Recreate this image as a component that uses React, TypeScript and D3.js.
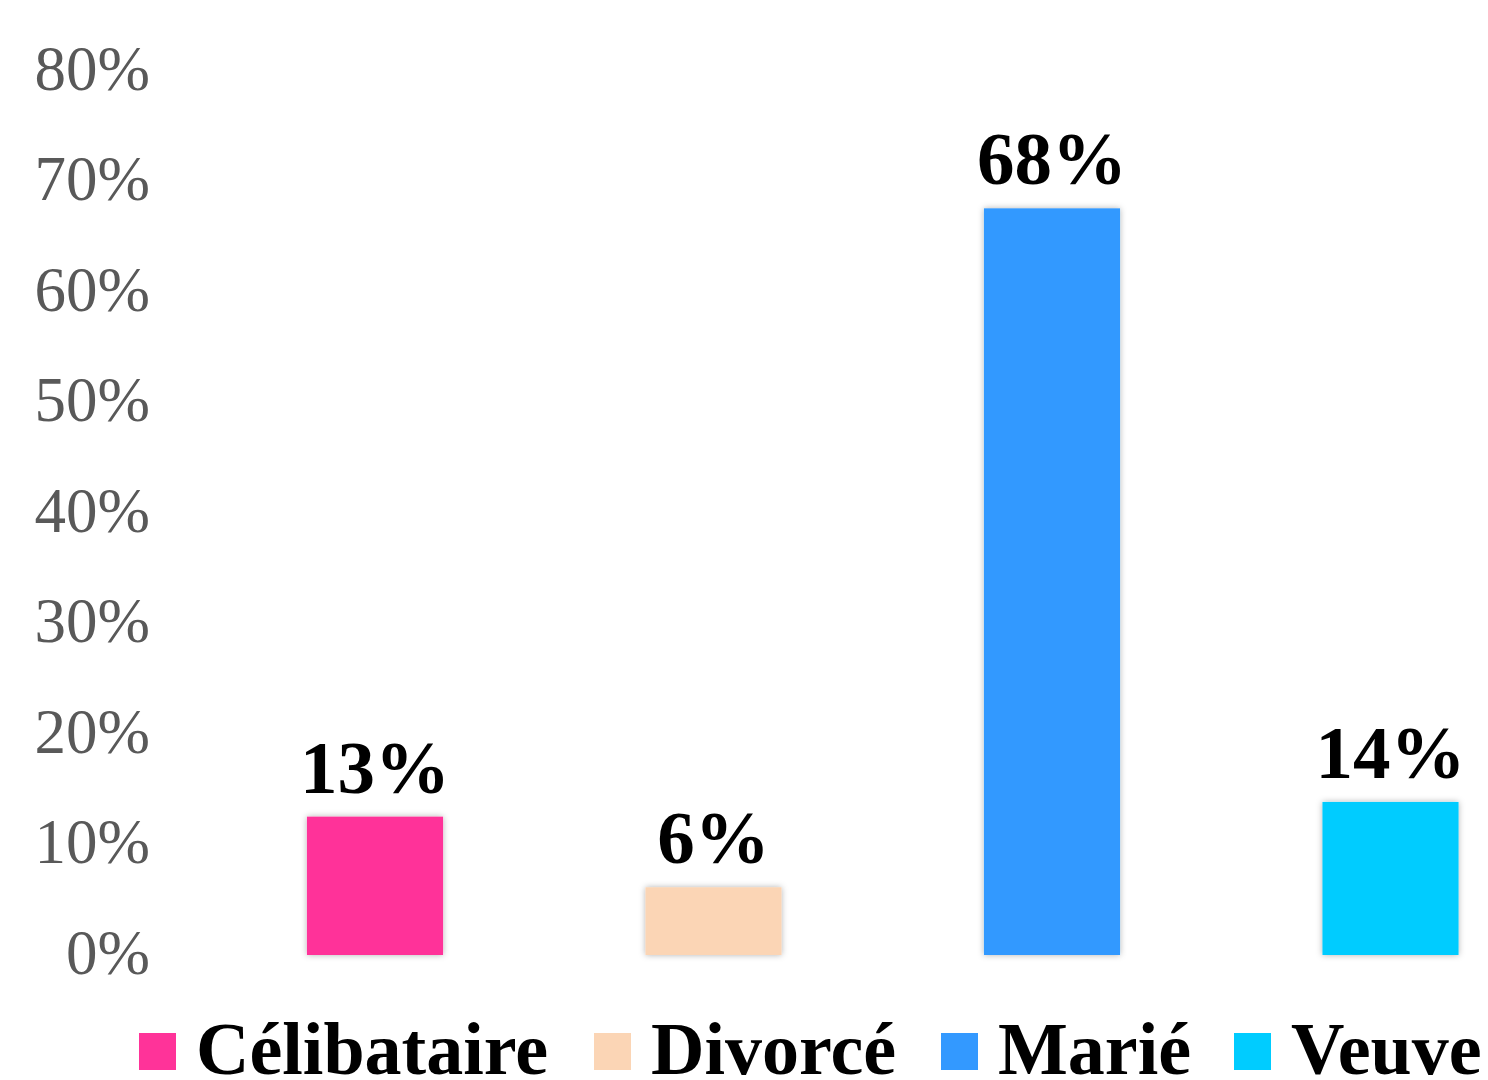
import React from 'react';
import * as d3 from 'd3';

const categories = ['Célibataire', 'Divorcé', 'Marié', 'Veuve'];
const shares = [0.1252, 0.0613, 0.6757, 0.1385];
const colors = ['#FF3399', '#FBD5B5', '#3399FF', '#00CCFF'];
const yTicks = [0, 0.1, 0.2, 0.3, 0.4, 0.5, 0.6, 0.7, 0.8];

const width = 1488;
const height = 1080;
const serif = '"Liberation Serif", "Times New Roman", serif';

const App = () => {
  // plot area is cropped on the right in the original, so the band range runs past the svg
  const x = d3.scaleBand<string>()
    .domain(categories)
    .range([205.75, 1559.75])
    .paddingInner(0.598)
    .paddingOuter(0.299);

  const y = d3.scaleLinear()
    .domain([0, 0.8])
    .range([955, 71]);

  const pct = d3.format('.0%');

  // legend layout: square, gap, label
  const legendX = [139, 594, 941, 1234];

  return (
    <div>
      <style>{'body { margin: 0; }'}</style>
      <svg width={width} height={height} style={{ display: 'block', background: '#fff' }}>
        <defs>
          <filter id="glow" x="-10%" y="-10%" width="120%" height="120%">
            <feDropShadow dx="0" dy="0" stdDeviation="3" floodColor="#000" floodOpacity="0.3" />
          </filter>
        </defs>

        {/* y axis labels */}
        <g fontFamily={serif} fontSize={63} fill="#595959" textAnchor="end">
          {yTicks.map(t => (
            <text key={t} x={150} y={y(t)} dy="0.3em">{pct(t)}</text>
          ))}
        </g>

        {/* bars */}
        {categories.map((c, i) => (
          <rect
            key={c}
            x={x(c)}
            y={y(shares[i])}
            width={x.bandwidth()}
            height={y(0) - y(shares[i])}
            fill={colors[i]}
            filter="url(#glow)"
          />
        ))}

        {/* value labels */}
        <g fontFamily={serif} fontSize={75} fontWeight="bold" fill="#000" textAnchor="middle">
          {categories.map((c, i) => (
            <text key={c} x={(x(c) ?? 0) + x.bandwidth() / 2} y={y(shares[i]) - 24}>
              {pct(shares[i])}
            </text>
          ))}
        </g>

        {/* legend */}
        <g fontFamily={serif} fontSize={74} fontWeight="bold" fill="#000">
          {categories.map((c, i) => (
            <g key={c} transform={`translate(${legendX[i]},1033)`}>
              <rect width={37} height={37} fill={colors[i]} />
              <text x={57} y={41}>{c}</text>
            </g>
          ))}
        </g>
      </svg>
    </div>
  );
};

export default App;
